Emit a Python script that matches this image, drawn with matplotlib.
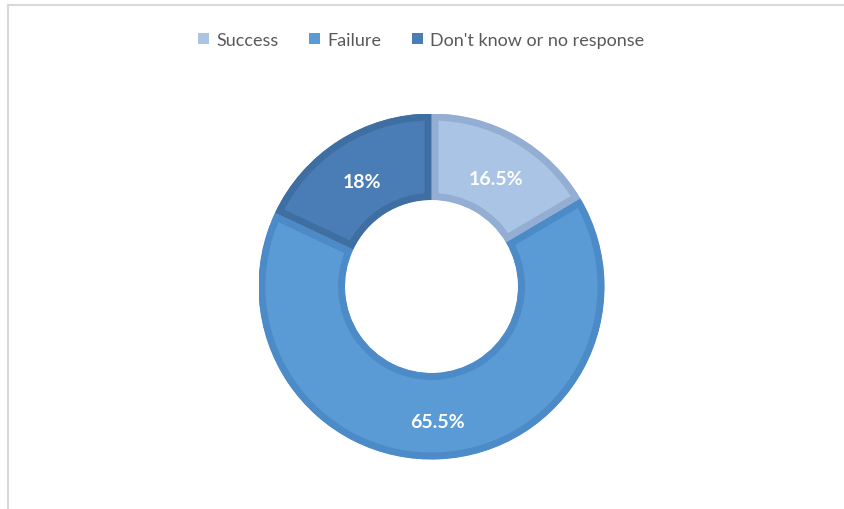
import numpy as np
import matplotlib
matplotlib.use("Agg")
import matplotlib.pyplot as plt
from matplotlib.patches import Patch

# --- datos ---
categorias = ["Success", "Failure", "Don't know or no response"]
valores = [16.5, 65.5, 18.0]
etiquetas = ["16.5%", "65.5%", "18%"]
colores = ["#A9C4E4", "#5B9BD5", "#4A7DB5"]
bordes = ["#94AED3", "#4C8AC8", "#3F6FA2"]

plt.rcParams["font.family"] = ["Lato", "DejaVu Sans"]

W, H = 844, 510
fig = plt.figure(figsize=(W / 100, H / 100), dpi=100)

# marco gris claro (arriba e izquierda, como en el recorte original)
fig.add_artist(plt.Line2D([8 / W, 8 / W], [0, 1 - 6 / H], color="#D9D9D9", lw=1.5))
fig.add_artist(plt.Line2D([8 / W, 1], [1 - 6 / H, 1 - 6 / H], color="#D9D9D9", lw=1.5))

# eje cuadrado centrado en la dona
cx, cy, r = 431.5, 287.5, 173
ax = fig.add_axes([(cx - r) / W, (H - cy - r) / H, 2 * r / W, 2 * r / H])
wedges, _ = ax.pie(valores, colors=colores, startangle=90, counterclock=False,
                   radius=1.0, wedgeprops=dict(width=0.5))
for w, b in zip(wedges, bordes):
    # borde interior: linea gruesa recortada al propio sector
    w.set_edgecolor(b)
    w.set_linewidth(10)
    w.set_clip_on(True)
    w.set_clip_path(w)

# etiquetas en el centro del anillo
acum = 0
for v, t in zip(valores, etiquetas):
    ang = np.deg2rad(90 - (acum + v / 2) * 3.6)
    ax.text(0.75 * np.cos(ang), 0.75 * np.sin(ang) - 0.02, t, ha="center",
            va="center_baseline", color="white", fontsize=14, fontweight="bold")
    acum += v
ax.set_xlim(-1, 1)
ax.set_ylim(-1, 1)
ax.set_aspect("equal")
ax.axis("off")

handles = [Patch(facecolor=c, edgecolor="none") for c in colores]
leg = fig.legend(handles, categorias, loc="center", bbox_to_anchor=(421 / W, 1 - 41 / H),
                 ncol=3, frameon=False, fontsize=13, handlelength=0.6, handleheight=0.6,
                 handletextpad=0.4, columnspacing=1.7)
for t in leg.get_texts():
    t.set_color("#595959")

fig.savefig("out.png", dpi=100)
